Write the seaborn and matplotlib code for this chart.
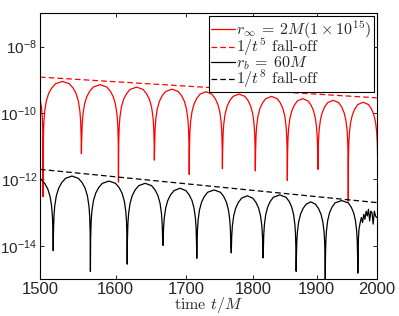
import matplotlib
matplotlib.use("Agg")
import matplotlib.pyplot as plt
import seaborn as sns
import pandas as pd
from matplotlib.ticker import FixedLocator, FixedFormatter, NullLocator
from matplotlib.font_manager import FontProperties

# red run (r_inf = 2M(1e15)): time of each zero, how deep the dip goes, top of the lobe after it
red_zero_t = [1454, 1504, 1554, 1604, 1654, 1704, 1753, 1803, 1853, 1902, 1952, 2002]
red_zero_y = [1e-12, 3.0e-13, 5.9e-12, 8.3e-13, 3.8e-12, 1.4e-12, 2.1e-12, 1.8e-12,
              9.3e-13, 2.0e-12, 2.2e-13, 1e-12]
red_peak_y = [1.1e-9, 8.9e-10, 7.1e-10, 6.0e-10, 5.2e-10, 4.35e-10, 3.7e-10, 3.15e-10,
              2.7e-10, 2.4e-10, 2.1e-10]

# black run (r_b = 60M)
black_zero_t = [1467, 1517, 1566, 1616, 1666, 1715, 1766, 1815, 1867, 1914, 1968]
black_zero_y = [5e-15, 7.1e-15, 1.7e-15, 2.8e-15, 1.5e-14, 4.2e-15, 8.5e-15, 4.3e-15,
                1.7e-15, 1.0e-15, 1.5e-15]
black_peak_y = [1.2e-12, 1.26e-12, 8.9e-13, 7.6e-13, 5.4e-13, 4.8e-13, 3.2e-13, 3.4e-13,
                2.1e-13, 2.3e-13]
# noisy end of the black run
tail_t = [1969, 1970, 1972, 1974, 1976, 1978, 1980, 1982, 1984, 1986, 1988, 1990,
          1992, 1994, 1996, 1998, 2000]
tail_y = [1.6e-14, 3.2e-14, 5.0e-14, 7.1e-14, 5.0e-14, 8.9e-14, 6.3e-14, 1.1e-13,
          7.9e-14, 1.26e-13, 5.6e-14, 1.1e-13, 1.0e-13, 4.5e-14, 1.1e-13, 7.9e-14, 7.1e-14]

# shape of half a lobe: distance from the zero (in t) and drop below the lobe top (decades)
lobe_dt = [0.3, 1, 2, 4, 7, 11, 16]
lobe_drop = [1.72, 1.20, 0.90, 0.60, 0.37, 0.20, 0.07]

# power-law guide lines
fall5_t = [1500, 2000]
fall5_y = [1.2e-9, 2.85e-10]
fall8_t = [1500, 2000]
fall8_y = [2.0e-12, 2.0e-13]


def build_lobes(zero_t, zero_y, peak_y):
    t, y = [], []
    for i, top in enumerate(peak_y):
        z0, z1 = zero_t[i], zero_t[i + 1]
        t.append(z0)
        y.append(zero_y[i])
        for dt, dr in zip(lobe_dt, lobe_drop):
            t.append(z0 + dt)
            y.append(top * 10 ** -dr)
        t.append((z0 + z1) / 2)
        y.append(top)
        for dt, dr in zip(lobe_dt[::-1], lobe_drop[::-1]):
            t.append(z1 - dt)
            y.append(top * 10 ** -dr)
    n = len(peak_y)
    t.append(zero_t[n])
    y.append(zero_y[n])
    return t, y


sns.set_style("ticks")
plt.rcParams['font.family'] = ['Liberation Sans', 'DejaVu Sans']

fig = plt.figure(figsize=(3.99, 3.16), dpi=100)
ax = fig.add_axes([0.1003, 0.1171, 0.8438, 0.8408])
ax.set_xscale('log')
ax.set_yscale('log')

rt, ry = build_lobes(red_zero_t, red_zero_y, red_peak_y)
bt, by = build_lobes(black_zero_t, black_zero_y, black_peak_y)
red_df = pd.DataFrame({"t": rt, "y": ry})
black_df = pd.DataFrame({"t": bt + tail_t, "y": by + tail_y})

sns.lineplot(data=red_df, x="t", y="y", color="#ff0000", lw=0.9, sort=False,
             estimator=None, ax=ax, label=r"$r_\infty\:=\:2M(1\:\times\:10^{15})$")
sns.lineplot(x=fall5_t, y=fall5_y, color="#ff0000", lw=0.9, ax=ax,
             label=r"$1/t^5$ fall-off", linestyle=(0, (4.5, 2.5)))
sns.lineplot(data=black_df, x="t", y="y", color="black", lw=0.9, sort=False,
             estimator=None, ax=ax, label=r"$r_b\:=\:60M$")
sns.lineplot(x=fall8_t, y=fall8_y, color="black", lw=0.9, ax=ax,
             label=r"$1/t^8$ fall-off", linestyle=(0, (4.5, 2.5)))

ax.set_xlim(1500, 2000)
ax.set_ylim(1e-15, 1e-7)

ax.xaxis.set_major_locator(FixedLocator([1500, 1600, 1700, 1800, 1900, 2000]))
ax.xaxis.set_major_formatter(FixedFormatter(["1500", "1600", "1700", "1800", "1900", "2000"]))
ax.xaxis.set_minor_locator(NullLocator())
ax.yaxis.set_major_locator(FixedLocator([1e-14, 1e-12, 1e-10, 1e-8]))
ax.yaxis.set_major_formatter(FixedFormatter([r"$\mathregular{10^{-14}}$", r"$\mathregular{10^{-12}}$",
                                             r"$\mathregular{10^{-10}}$", r"$\mathregular{10^{-8}}$"]))
ax.yaxis.set_minor_locator(NullLocator())
ax.tick_params(direction='in', top=True, right=True, length=3, width=0.6, color='black')
ax.tick_params(axis='x', labelsize=12, pad=2)
ax.tick_params(axis='y', labelsize=11, pad=2)
for s in ax.spines.values():
    s.set_color('black')
    s.set_linewidth(0.8)

ax.set_ylabel("")
cm = FontProperties(family='cmr10', size=11.5, math_fontfamily='cm')
ax.set_xlabel(r"time $t/M$", fontproperties=cm, labelpad=-1)

leg = ax.legend(loc='upper right', prop=FontProperties(family='cmr10', size=11.5, math_fontfamily='cm'),
                frameon=True, fancybox=False, framealpha=1, edgecolor='black',
                handlelength=1.5, handletextpad=0.1, borderpad=0.1, labelspacing=-0.25,
                borderaxespad=0.2)
leg.get_frame().set_linewidth(0.8)

fig.savefig("out.png", dpi=100)
